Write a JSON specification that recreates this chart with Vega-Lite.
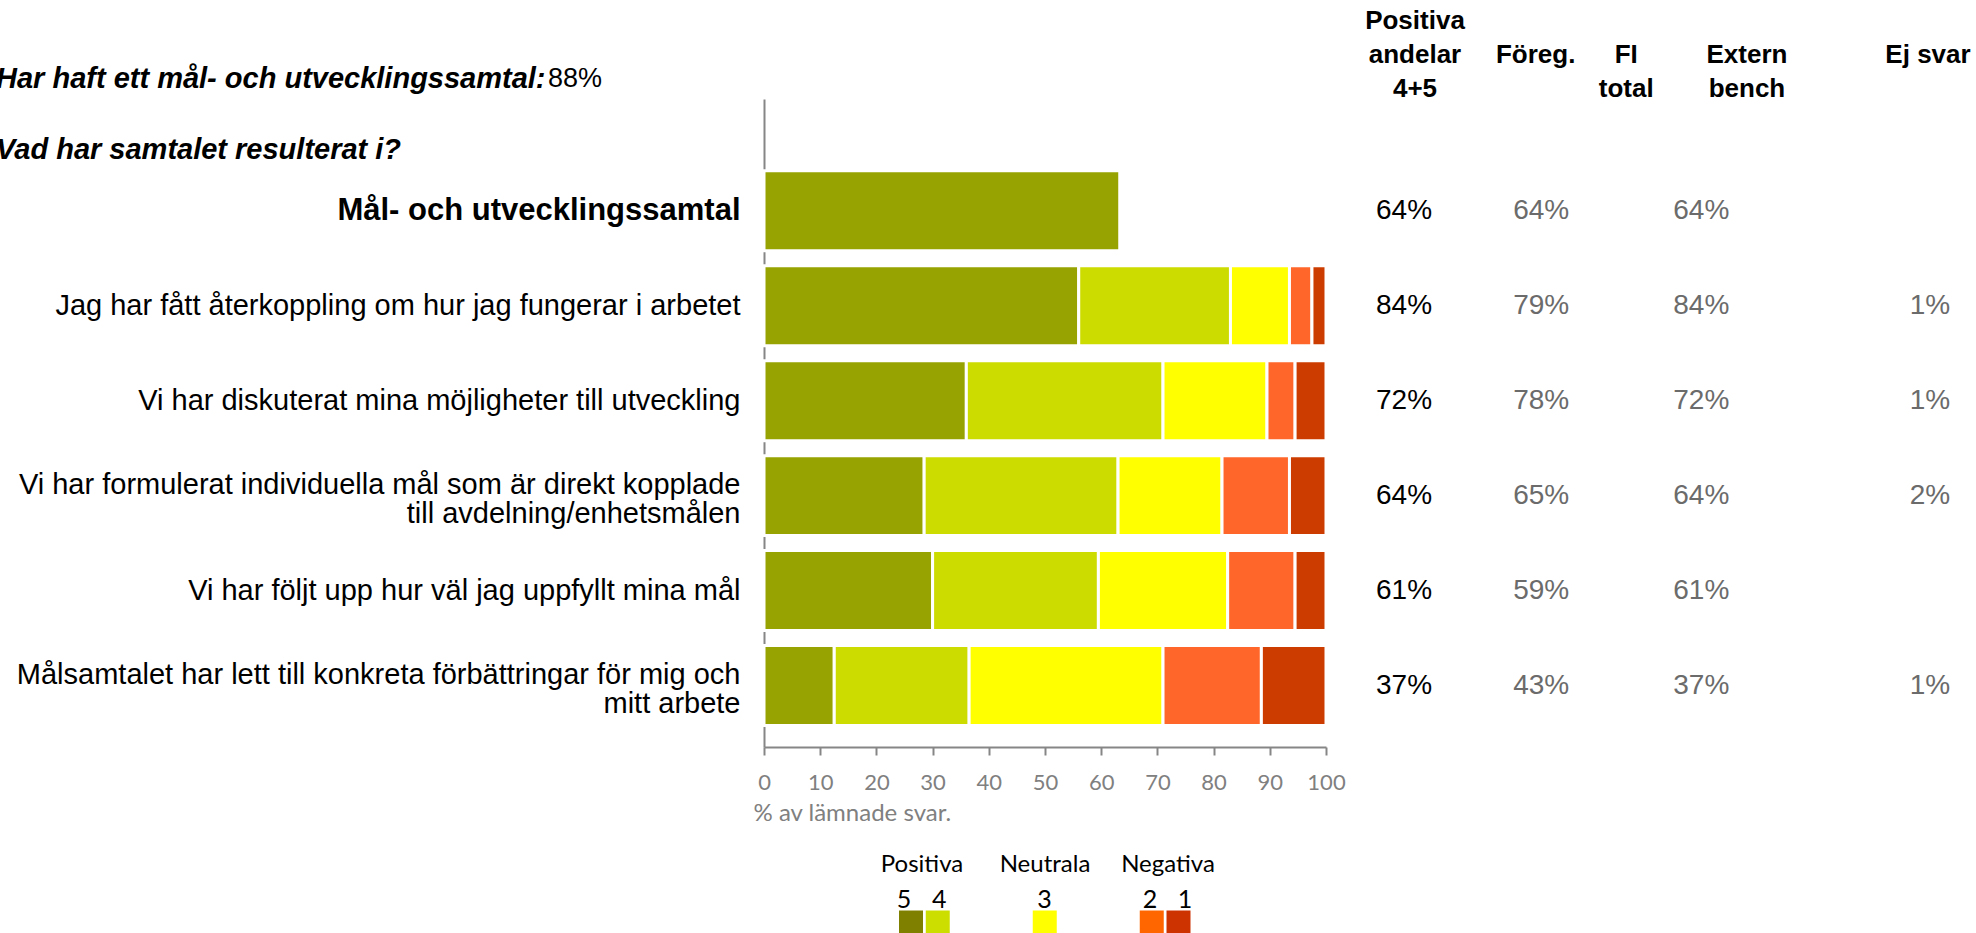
{
  "$schema": "https://vega.github.io/schema/vega-lite/v6.json",
  "usermeta": {"embedOptions": {"actions": false}},
  "autosize": "none",
  "padding": {"left": 764, "top": 99, "right": 650, "bottom": 186},
  "width": 562,
  "height": 648,
  "background": "white",
  "config": {"view": {"stroke": null}, "font": "Liberation Sans"},
  "datasets": {
    "bars": [
      {"q": "Mål- och utvecklingssamtal", "score": 5, "pct": 63.3},
      {"q": "Jag har fått återkoppling om hur jag fungerar i arbetet", "score": 5, "pct": 56},
      {"q": "Jag har fått återkoppling om hur jag fungerar i arbetet", "score": 4, "pct": 27},
      {"q": "Jag har fått återkoppling om hur jag fungerar i arbetet", "score": 3, "pct": 10.5},
      {"q": "Jag har fått återkoppling om hur jag fungerar i arbetet", "score": 2, "pct": 4},
      {"q": "Jag har fått återkoppling om hur jag fungerar i arbetet", "score": 1, "pct": 2.5},
      {"q": "Vi har diskuterat mina möjligheter till utveckling", "score": 5, "pct": 36},
      {"q": "Vi har diskuterat mina möjligheter till utveckling", "score": 4, "pct": 35},
      {"q": "Vi har diskuterat mina möjligheter till utveckling", "score": 3, "pct": 18.5},
      {"q": "Vi har diskuterat mina möjligheter till utveckling", "score": 2, "pct": 5},
      {"q": "Vi har diskuterat mina möjligheter till utveckling", "score": 1, "pct": 5.5},
      {"q": "Vi har formulerat individuella mål som är direkt kopplade|till avdelning/enhetsmålen", "score": 5, "pct": 28.5},
      {"q": "Vi har formulerat individuella mål som är direkt kopplade|till avdelning/enhetsmålen", "score": 4, "pct": 34.5},
      {"q": "Vi har formulerat individuella mål som är direkt kopplade|till avdelning/enhetsmålen", "score": 3, "pct": 18.5},
      {"q": "Vi har formulerat individuella mål som är direkt kopplade|till avdelning/enhetsmålen", "score": 2, "pct": 12},
      {"q": "Vi har formulerat individuella mål som är direkt kopplade|till avdelning/enhetsmålen", "score": 1, "pct": 6.5},
      {"q": "Vi har följt upp hur väl jag uppfyllt mina mål", "score": 5, "pct": 30},
      {"q": "Vi har följt upp hur väl jag uppfyllt mina mål", "score": 4, "pct": 29.5},
      {"q": "Vi har följt upp hur väl jag uppfyllt mina mål", "score": 3, "pct": 23},
      {"q": "Vi har följt upp hur väl jag uppfyllt mina mål", "score": 2, "pct": 12},
      {"q": "Vi har följt upp hur väl jag uppfyllt mina mål", "score": 1, "pct": 5.5},
      {"q": "Målsamtalet har lett till konkreta förbättringar för mig och|mitt arbete", "score": 5, "pct": 12.5},
      {"q": "Målsamtalet har lett till konkreta förbättringar för mig och|mitt arbete", "score": 4, "pct": 24},
      {"q": "Målsamtalet har lett till konkreta förbättringar för mig och|mitt arbete", "score": 3, "pct": 34.5},
      {"q": "Målsamtalet har lett till konkreta förbättringar för mig och|mitt arbete", "score": 2, "pct": 17.5},
      {"q": "Målsamtalet har lett till konkreta förbättringar för mig och|mitt arbete", "score": 1, "pct": 11.5}
    ],
    "table": [
      {"q": "Mål- och utvecklingssamtal", "col": "Positiva", "v": "64%"},
      {"q": "Mål- och utvecklingssamtal", "col": "Föreg.", "v": "64%"},
      {"q": "Mål- och utvecklingssamtal", "col": "FI", "v": "64%"},
      {"q": "Jag har fått återkoppling om hur jag fungerar i arbetet", "col": "Positiva", "v": "84%"},
      {"q": "Jag har fått återkoppling om hur jag fungerar i arbetet", "col": "Föreg.", "v": "79%"},
      {"q": "Jag har fått återkoppling om hur jag fungerar i arbetet", "col": "FI", "v": "84%"},
      {"q": "Jag har fått återkoppling om hur jag fungerar i arbetet", "col": "Ej svar", "v": "1%"},
      {"q": "Vi har diskuterat mina möjligheter till utveckling", "col": "Positiva", "v": "72%"},
      {"q": "Vi har diskuterat mina möjligheter till utveckling", "col": "Föreg.", "v": "78%"},
      {"q": "Vi har diskuterat mina möjligheter till utveckling", "col": "FI", "v": "72%"},
      {"q": "Vi har diskuterat mina möjligheter till utveckling", "col": "Ej svar", "v": "1%"},
      {"q": "Vi har formulerat individuella mål som är direkt kopplade|till avdelning/enhetsmålen", "col": "Positiva", "v": "64%"},
      {"q": "Vi har formulerat individuella mål som är direkt kopplade|till avdelning/enhetsmålen", "col": "Föreg.", "v": "65%"},
      {"q": "Vi har formulerat individuella mål som är direkt kopplade|till avdelning/enhetsmålen", "col": "FI", "v": "64%"},
      {"q": "Vi har formulerat individuella mål som är direkt kopplade|till avdelning/enhetsmålen", "col": "Ej svar", "v": "2%"},
      {"q": "Vi har följt upp hur väl jag uppfyllt mina mål", "col": "Positiva", "v": "61%"},
      {"q": "Vi har följt upp hur väl jag uppfyllt mina mål", "col": "Föreg.", "v": "59%"},
      {"q": "Vi har följt upp hur väl jag uppfyllt mina mål", "col": "FI", "v": "61%"},
      {"q": "Målsamtalet har lett till konkreta förbättringar för mig och|mitt arbete", "col": "Positiva", "v": "37%"},
      {"q": "Målsamtalet har lett till konkreta förbättringar för mig och|mitt arbete", "col": "Föreg.", "v": "43%"},
      {"q": "Målsamtalet har lett till konkreta förbättringar för mig och|mitt arbete", "col": "FI", "v": "37%"},
      {"q": "Målsamtalet har lett till konkreta förbättringar för mig och|mitt arbete", "col": "Ej svar", "v": "1%"}
    ],
    "headers": [
      {"h": "Positiva andelar 4+5", "line": "1", "t": "Positiva"},
      {"h": "Positiva andelar 4+5", "line": "2", "t": "andelar"},
      {"h": "Positiva andelar 4+5", "line": "3", "t": "4+5"},
      {"h": "Föreg.", "line": "2", "t": "Föreg."},
      {"h": "FI total", "line": "2", "t": "FI"},
      {"h": "FI total", "line": "3", "t": "total"},
      {"h": "Extern bench", "line": "2", "t": "Extern"},
      {"h": "Extern bench", "line": "3", "t": "bench"},
      {"h": "Ej svar", "line": "2", "t": "Ej svar"}
    ],
    "titles": [
      {"part": "a", "line": "1", "t": "Har haft ett mål- och utvecklingssamtal:"},
      {"part": "b", "line": "1", "t": "88%"},
      {"part": "a", "line": "2", "t": "Vad har samtalet resulterat i?"}
    ],
    "lgroups": [
      {"g": "Positiva"},
      {"g": "Neutrala"},
      {"g": "Negativa"}
    ],
    "lkeys": [
      {"k": "5"},
      {"k": "4"},
      {"k": "3"},
      {"k": "2"},
      {"k": "1"}
    ]
  },
  "layer": [
    {
      "layer": [
        {
          "data": {"name": "bars"},
          "mark": {"type": "bar", "stroke": "white", "strokeWidth": 3},
          "encoding": {
            "y": {
              "field": "q",
              "type": "nominal",
              "sort": null,
              "scale": {
                "domain": [
                  "Mål- och utvecklingssamtal",
                  "Jag har fått återkoppling om hur jag fungerar i arbetet",
                  "Vi har diskuterat mina möjligheter till utveckling",
                  "Vi har formulerat individuella mål som är direkt kopplade|till avdelning/enhetsmålen",
                  "Vi har följt upp hur väl jag uppfyllt mina mål",
                  "Målsamtalet har lett till konkreta förbättringar för mig och|mitt arbete"
                ],
                "paddingInner": 0.158,
                "paddingOuter": 0.49,
                "align": 0.77
              },
              "axis": {
                "title": null,
                "domainColor": "#868686",
                "domainWidth": 2,
                "ticks": false,
                "tickSize": 0,
                "labelPadding": 24,
                "labelLimit": 900,
                "labelFont": "Liberation Sans",
                "labelColor": "black",
                "labelExpr": "split(datum.label, '|')",
                "labelLineHeight": 29,
                "labelOffset": {"condition": {"test": "indexof(datum.value, '|') >= 0", "value": -11}, "value": 0},
                "labelFontSize": {"condition": {"test": "datum.value == 'Mål- och utvecklingssamtal'", "value": 31}, "value": 29},
                "labelFontWeight": {"condition": {"test": "datum.value == 'Mål- och utvecklingssamtal'", "value": "bold"}, "value": "normal"}
              }
            },
            "x": {
              "field": "pct",
              "type": "quantitative",
              "stack": "zero",
              "scale": {"domain": [0, 100], "nice": false},
              "axis": {
                "values": [0, 10, 20, 30, 40, 50, 60, 70, 80, 90, 100],
                "grid": false,
                "domainColor": "#868686",
                "domainWidth": 2,
                "tickColor": "#868686",
                "tickSize": 8,
                "tickWidth": 2,
                "labelFont": "Lato",
                "labelFontSize": 22,
                "labelColor": "#808080",
                "labelPadding": 17,
                "labelFlush": false,
                "title": "% av lämnade svar.",
                "titleFont": "Lato",
                "titleFontSize": 24,
                "titleFontWeight": "normal",
                "titleColor": "#808080",
                "titleAnchor": "start",
                "titleAlign": "left",
                "titleX": -11,
                "titlePadding": 8
              }
            },
            "color": {
              "field": "score",
              "type": "nominal",
              "scale": {"domain": [5, 4, 3, 2, 1], "range": ["#97A300", "#CCDB00", "#FFFF00", "#FF6629", "#CC3C00"]},
              "legend": null
            },
            "order": {"field": "score", "type": "quantitative", "sort": "descending"}
          }
        },
        {
          "data": {"name": "table"},
          "mark": {"type": "text", "font": "Liberation Sans", "fontSize": 28, "align": "center", "baseline": "middle"},
          "encoding": {
            "y": {"field": "q", "type": "nominal", "sort": null},
            "x": {
              "field": "col",
              "type": "nominal",
              "scale": {"type": "point", "padding": 0, "range": [640, 1166],
                "domain": ["Positiva", "p1", "p2", "p3", "p4", "p5", "Föreg.", "f1", "f2", "f3", "f4", "f5", "f6", "FI", "Extern", "g2", "g3", "g4", "g5", "g6", "g7", "g8", "g9", "Ej svar"]},
              "axis": null
            },
            "text": {"field": "v"},
            "color": {"condition": {"test": "datum.col == 'Positiva'", "value": "#000000"}, "value": "#6b6b6b"}
          }
        }
      ],
      "resolve": {"scale": {"x": "independent"}}
    },
    {
      "data": {"name": "headers"},
      "mark": {"type": "text", "font": "Liberation Sans", "fontSize": 26, "fontWeight": "bold", "align": "center", "baseline": "middle", "color": "black"},
      "encoding": {
        "x": {
          "field": "h",
          "type": "nominal",
          "scale": {"type": "point", "padding": 0, "range": [651, 1164],
            "domain": ["Positiva andelar 4+5", "s1", "s2", "s3", "Föreg.", "s4", "s5", "FI total", "s6", "s7", "s8", "Extern bench", "s9", "s10", "s11", "s12", "s13", "Ej svar"]},
          "axis": null
        },
        "y": {
          "field": "line",
          "type": "nominal",
          "scale": {"type": "point", "padding": 0, "domain": ["1", "2", "3"], "range": [-78, -10]},
          "axis": null
        },
        "text": {"field": "t"}
      }
    },
    {
      "data": {"name": "titles"},
      "layer": [
        {
          "transform": [{"filter": "datum.part == 'a'"}],
          "mark": {"type": "text", "font": "Liberation Sans", "fontSize": 29, "fontWeight": "bold", "fontStyle": "italic", "align": "left", "baseline": "middle", "color": "black"}
        },
        {
          "transform": [{"filter": "datum.part == 'b'"}],
          "mark": {"type": "text", "font": "Liberation Sans", "fontSize": 27, "align": "left", "baseline": "middle", "color": "black"}
        }
      ],
      "encoding": {
        "x": {"field": "part", "type": "nominal", "scale": {"type": "point", "padding": 0, "domain": ["a", "b"], "range": [-768, -216]}, "axis": null},
        "y": {"field": "line", "type": "nominal", "scale": {"type": "point", "padding": 0, "domain": ["1", "2"], "range": [-20, 51]}, "axis": null},
        "text": {"field": "t"}
      }
    },
    {
      "layer": [
        {
          "data": {"name": "lgroups"},
          "mark": {"type": "text", "font": "Lato", "fontSize": 24, "align": "center", "baseline": "middle", "color": "black"},
          "encoding": {
            "x": {"field": "g", "type": "nominal", "scale": {"type": "point", "padding": 0, "domain": ["Positiva", "Neutrala", "Negativa"], "range": [158, 404]}, "axis": null},
            "y": {"datum": "t", "type": "nominal", "scale": {"type": "point", "padding": 0, "domain": ["t", "a", "b", "n", "c", "s"], "range": [766, 823.5]}, "axis": null},
            "text": {"field": "g"}
          }
        },
        {
          "data": {"name": "lkeys"},
          "mark": {"type": "text", "font": "Lato", "fontSize": 25, "align": "center", "baseline": "middle", "color": "black"},
          "encoding": {
            "x": {"field": "k", "type": "nominal", "scale": {"type": "point", "padding": 0, "domain": ["5", "4", "e1", "e2", "3", "e3", "e4", "2", "1"], "range": [140, 421]}, "axis": null},
            "y": {"datum": "n", "type": "nominal", "scale": {"type": "point", "padding": 0, "domain": ["t", "a", "b", "n", "c", "s"], "range": [766, 823.5]}, "axis": null},
            "text": {"field": "k"}
          }
        },
        {
          "data": {"name": "lkeys"},
          "mark": {"type": "square", "size": 576, "opacity": 1, "filled": true},
          "encoding": {
            "x": {"field": "k", "type": "nominal", "scale": {"type": "point", "padding": 0, "domain": ["5", "4", "e1", "e2", "e3", "3", "e4", "e5", "e6", "2", "1"], "range": [147, 414.5]}, "axis": null},
            "y": {"datum": "s", "type": "nominal", "scale": {"type": "point", "padding": 0, "domain": ["t", "a", "b", "n", "c", "s"], "range": [766, 823.5]}, "axis": null},
            "color": {"field": "k", "type": "nominal", "scale": {"domain": ["5", "4", "3", "2", "1"], "range": ["#808000", "#CCDD00", "#FFFF00", "#FF6600", "#CC3300"]}, "legend": null}
          }
        }
      ],
      "resolve": {"scale": {"x": "independent"}}
    }
  ],
  "resolve": {"scale": {"x": "independent", "y": "independent", "color": "independent"}}
}
